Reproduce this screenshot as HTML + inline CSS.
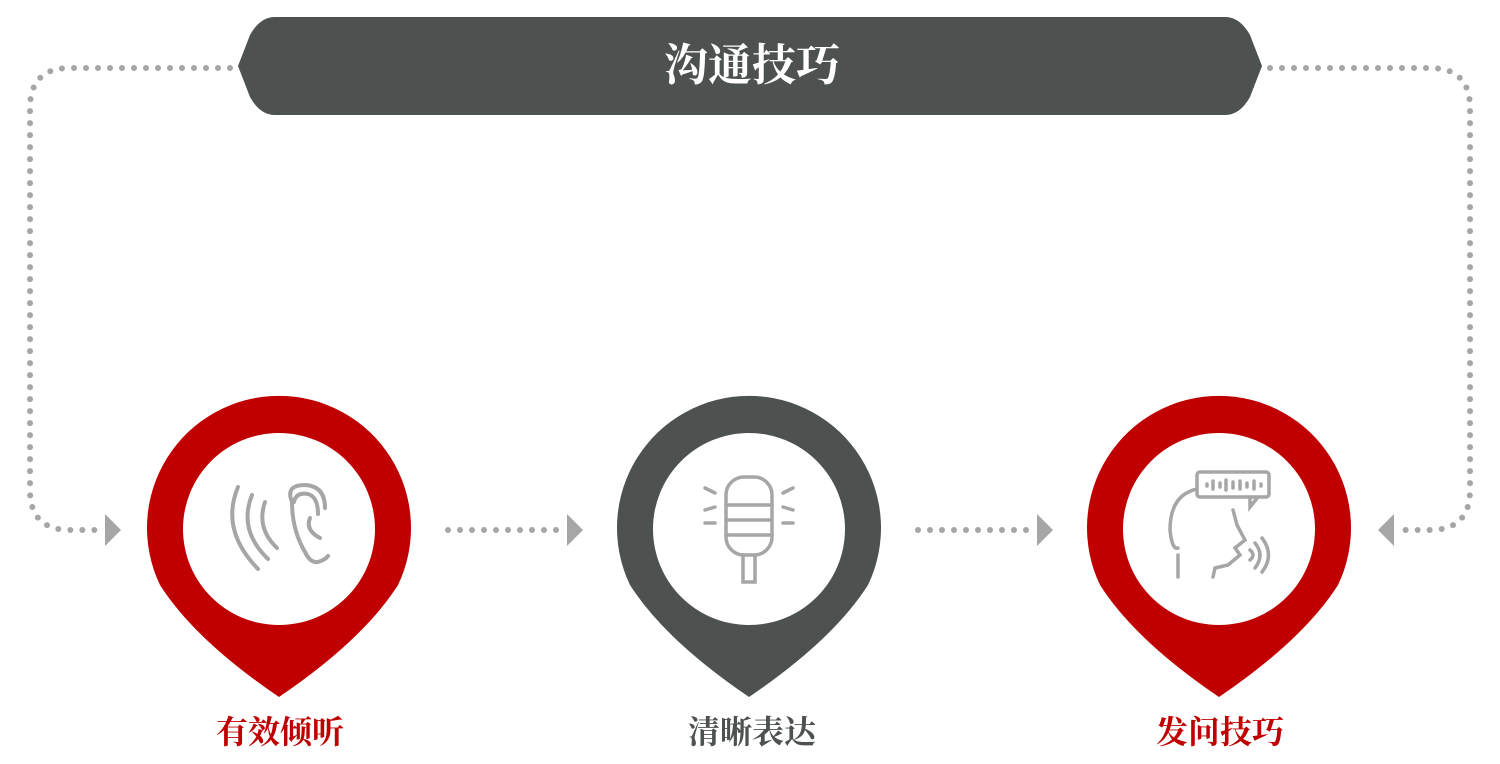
<!DOCTYPE html>
<html><head><meta charset="utf-8"><style>
html,body{margin:0;padding:0;background:#fff;}
svg{display:block}
</style></head><body>
<svg width="1500" height="764" viewBox="0 0 1500 764" xmlns="http://www.w3.org/2000/svg">
<g fill="none" stroke="#a6a6a6" stroke-width="6" stroke-linecap="round" stroke-dasharray="0 12">
<path d="M230 68 H70 Q30 68 30 108 V490 Q30 530 70 530 H100"/>
<path d="M1270 68 H1430 Q1470 68 1470 108 V490 Q1470 530 1430 530 H1400"/>
<path d="M448 530 H560"/>
<path d="M918 530 H1030"/>
</g>
<g fill="#a6a6a6">
<path d="M105 514 L121 530 L105 546Z"/>
<path d="M567 514 L583 530 L567 546Z"/>
<path d="M1037 514 L1053 530 L1037 546Z"/>
<path d="M1394 514 L1378 530 L1394 546Z"/>
</g>
<path d="M275 17 H1225 Q1240 17 1250 35 L1262 66 L1250 97 Q1240 115 1225 115 H275 Q260 115 250 97 L238 66 L250 35 Q260 17 275 17Z" fill="#4d5250"/>
<text x="752" y="80" text-anchor="middle" font-family="'Liberation Serif','Noto Serif CJK SC',serif" font-weight="bold" font-size="44" fill="#fff">沟通技巧</text>
<g>
<path d="M279 697 Q195 640 160 585 A132 132 0 1 1 398 585 Q363 640 279 697Z" fill="#c00000"/>
<circle cx="279" cy="529" r="96" fill="#fff"/>
<path d="M749 697 Q665 640 630 585 A132 132 0 1 1 868 585 Q833 640 749 697Z" fill="#4d5250"/>
<circle cx="749" cy="529" r="96" fill="#fff"/>
<path d="M1219 697 Q1135 640 1100 585 A132 132 0 1 1 1338 585 Q1303 640 1219 697Z" fill="#c00000"/>
<circle cx="1219" cy="529" r="96" fill="#fff"/>
</g>
<g fill="none" stroke="#a6a6a6" stroke-width="4" stroke-linecap="round">
<path d="M238 487 Q220 530 258 569"/>
<path d="M252 495 Q238 530 268 559"/>
<path d="M265 502 Q256 528 277 548"/>
<path d="M292 502 Q285 485 305 485 Q325 486 325 508"/>
<path d="M292 502 Q292 530 305 552 Q310 563 318 562 Q325 560 328 556"/>
<path d="M294 502 Q296 492 308 494 Q318 497 318 514"/>
<path d="M310 518 Q305 530 320 538"/>
</g>
<g fill="none" stroke="#a6a6a6" stroke-width="3.5" stroke-linecap="round">
<rect x="726" y="477" width="46" height="78" rx="18"/>
<path d="M726 505 H772 M726 520 H772 M726 535 H772 M743 555 V582 H755 V555"/>
<path d="M705 488 L715 493 M705 523 H715 M705 510 L715 507 M793 488 L783 493 M793 523 H783 M793 510 L783 507"/>
</g>
<g fill="none" stroke="#a6a6a6" stroke-width="3.5" stroke-linecap="round">
<path d="M1197 489 Q1170 495 1170 530 Q1172 550 1178 548 M1178 555 V577"/>
<rect x="1197" y="472" width="72" height="25" rx="3"/>
<path d="M1250 497 L1250 507 L1258 497"/>
<path d="M1207 484v2M1213 481v8M1220 483v4M1226 480v10M1233 482v6M1240 481v8M1247 483v4M1254 481v8M1261 484v2"/>
<path d="M1233 510 L1237 525 L1245 540 L1235 548 L1240 555 L1228 565 L1215 568 L1213 577"/>
<path d="M1250 550 Q1256 555 1250 560 M1255 543 Q1265 555 1255 568 M1262 538 Q1275 555 1262 572"/>
</g>
<g font-family="'Liberation Serif','Noto Serif CJK SC',serif" font-weight="bold" font-size="32" text-anchor="middle">
<text x="280" y="743" fill="#c00000">有效倾听</text>
<text x="752" y="743" fill="#4d5250">清晰表达</text>
<text x="1220" y="743" fill="#c00000">发问技巧</text>
</g>
</svg>
</body></html>
